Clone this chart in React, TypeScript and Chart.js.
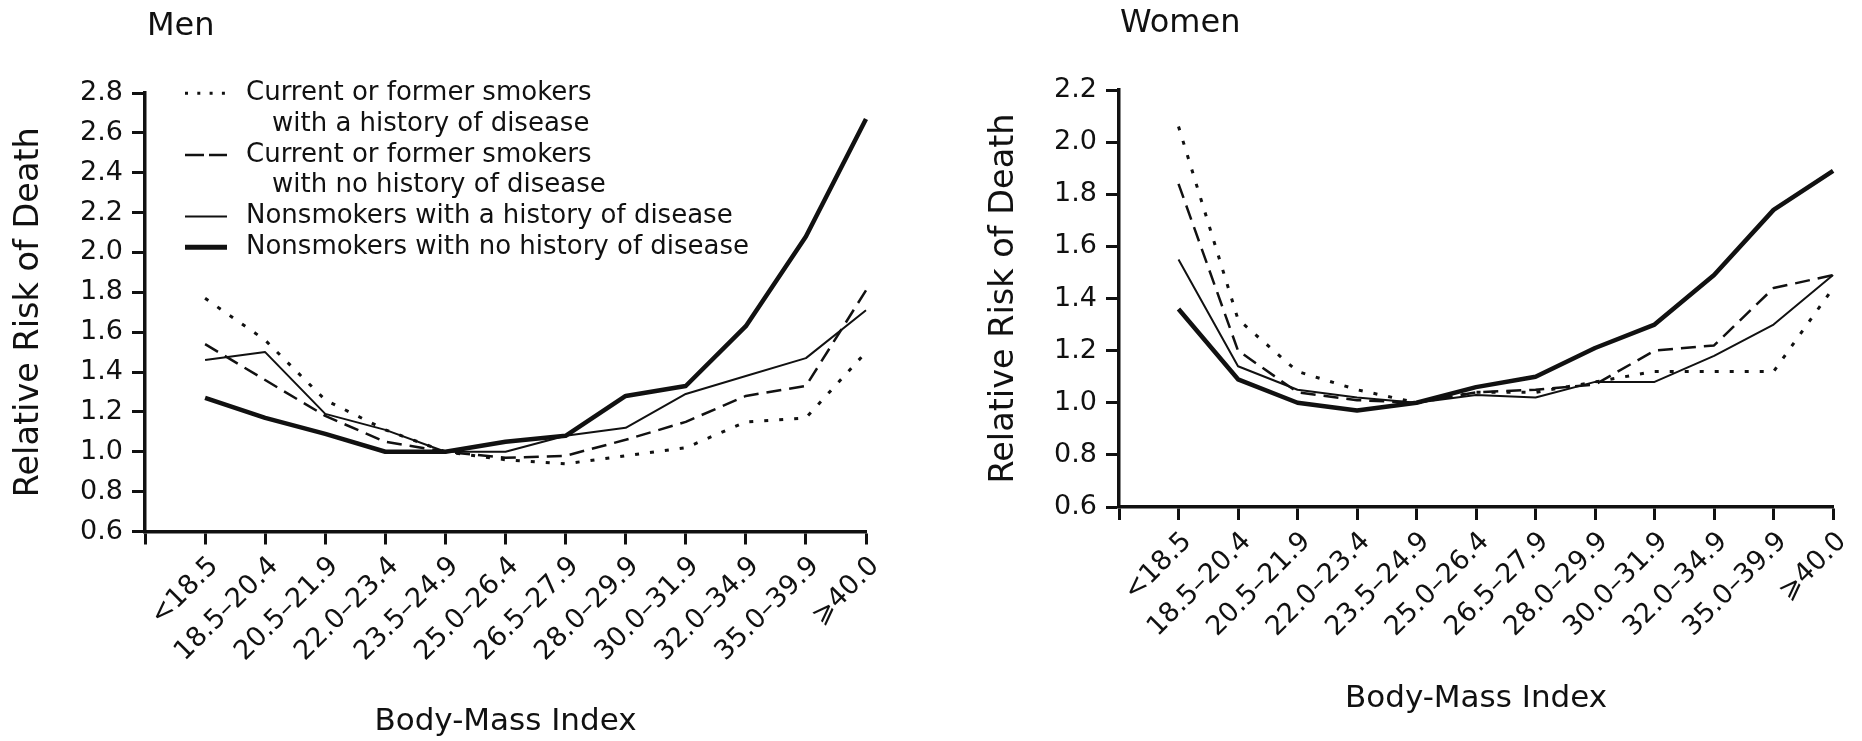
import React, { useEffect, useRef } from 'react';
import { Chart, registerables } from 'chart.js';

Chart.register(...registerables);

// ---------- data ----------
const categories = [
  '<18.5', '18.5–20.4', '20.5–21.9', '22.0–23.4', '23.5–24.9', '25.0–26.4',
  '26.5–27.9', '28.0–29.9', '30.0–31.9', '32.0–34.9', '35.0–39.9', '⩾40.0',
];

const seriesLabels = [
  'Current or former smokers\nwith a history of disease',
  'Current or former smokers\nwith no history of disease',
  'Nonsmokers with a history of disease',
  'Nonsmokers with no history of disease',
];

const menSmokersDisease = [1.77, 1.56, 1.26, 1.11, 1.0, 0.96, 0.94, 0.98, 1.02, 1.15, 1.17, 1.5];
const menSmokersNoDisease = [1.54, 1.36, 1.18, 1.05, 1.0, 0.97, 0.98, 1.06, 1.15, 1.28, 1.33, 1.81];
const menNonsmokersDisease = [1.46, 1.5, 1.19, 1.11, 1.0, 1.0, 1.08, 1.12, 1.29, 1.38, 1.47, 1.71];
const menNonsmokersNoDisease = [1.27, 1.17, 1.09, 1.0, 1.0, 1.05, 1.08, 1.28, 1.33, 1.63, 2.08, 2.67];

const womenSmokersDisease = [2.06, 1.32, 1.12, 1.05, 1.0, 1.04, 1.04, 1.08, 1.12, 1.12, 1.12, 1.44];
const womenSmokersNoDisease = [1.84, 1.2, 1.04, 1.01, 1.0, 1.04, 1.05, 1.07, 1.2, 1.22, 1.44, 1.49];
const womenNonsmokersDisease = [1.55, 1.14, 1.05, 1.02, 1.0, 1.03, 1.02, 1.08, 1.08, 1.18, 1.3, 1.49];
const womenNonsmokersNoDisease = [1.36, 1.09, 1.0, 0.97, 1.0, 1.06, 1.1, 1.21, 1.3, 1.49, 1.74, 1.89];

const menYMax = 2.8;
const womenYMax = 2.2;
const yMin = 0.6;
const yStep = 0.2;

// ---------- styles ----------
const FONT = "'DejaVu Sans', sans-serif";
const INK = '#111';
const lineStyles = [
  { borderWidth: 3, borderDash: [4, 11], legendDash: [3, 9.3] },
  { borderWidth: 2.5, borderDash: [15, 8], legendDash: [19, 5] },
  { borderWidth: 2, borderDash: [] as number[], legendDash: [] as number[] },
  { borderWidth: 4.5, borderDash: [] as number[], legendDash: [] as number[] },
];

const annotatePlugin = {
  id: 'annotate',
  afterDraw(chart: any, _args: any, opts: any) {
    const ctx = chart.ctx;
    ctx.save();
    ctx.fillStyle = INK;
    ctx.textAlign = 'left';
    ctx.textBaseline = 'alphabetic';
    ctx.font = `32px ${FONT}`;
    ctx.fillText(opts.title, opts.titleX, opts.titleY);
    if (opts.legend) {
      const lg = opts.legend;
      let row = 0;
      ctx.font = `26px ${FONT}`;
      ctx.textBaseline = 'middle';
      chart.data.datasets.forEach((ds: any, k: number) => {
        const lines = String(ds.label).split('\n');
        const y = lg.y + row * lg.spacing;
        ctx.beginPath();
        ctx.setLineDash(lineStyles[k].legendDash);
        ctx.lineWidth = k === 3 ? 5 : ds.borderWidth;
        ctx.strokeStyle = INK;
        ctx.moveTo(lg.x0, y);
        ctx.lineTo(lg.x1, y);
        ctx.stroke();
        ctx.setLineDash([]);
        lines.forEach((t: string, i: number) => {
          ctx.fillText(t, i === 0 ? lg.textX : lg.indentX, lg.y + (row + i) * lg.spacing);
        });
        row += lines.length;
      });
    }
    ctx.restore();
  },
};

type PanelProps = {
  left: number;
  width: number;
  height: number;
  title: string;
  titleX: number;
  titleY: number;
  series: number[][];
  yMax: number;
  axisX: number;
  plotTop: number;
  plotBottom: number;
  plotRight: number;
  yTitlePad: number;
  xTitlePad: number;
  legend?: any;
};

function Panel(p: PanelProps) {
  const ref = useRef<HTMLCanvasElement>(null);
  useEffect(() => {
    if (!ref.current) return;
    const datasets = p.series.map((vals, k) => ({
      label: seriesLabels[k],
      data: vals.map((v, i) => ({ x: i + 1, y: v })),
      borderColor: INK,
      backgroundColor: INK,
      borderWidth: lineStyles[k].borderWidth,
      borderDash: lineStyles[k].borderDash,
      pointRadius: 0,
      tension: 0,
      fill: false,
      clip: false as any,
      borderJoinStyle: 'round' as const,
    }));
    const gridOpts = {
      display: true,
      drawOnChartArea: false,
      drawTicks: true,
      tickLength: 13,
      tickWidth: 3,
      tickColor: INK,
      color: INK,
    };
    const borderOpts = { display: true, width: 3.5, color: INK };
    const chart = new Chart(ref.current, {
      type: 'line',
      data: { datasets },
      plugins: [annotatePlugin],
      options: {
        animation: false,
        responsive: false,
        devicePixelRatio: 1,
        layout: {
          padding: { top: p.plotTop, left: 0, bottom: 0, right: p.width - p.plotRight },
        },
        plugins: {
          legend: { display: false },
          tooltip: { enabled: false },
          annotate: { title: p.title, titleX: p.titleX, titleY: p.titleY, legend: p.legend },
        } as any,
        scales: {
          x: {
            type: 'linear',
            min: 0,
            max: categories.length,
            afterFit: (s: any) => { s.height = p.height - p.plotBottom; },
            afterBuildTicks: (s: any) => {
              s.ticks = Array.from({ length: categories.length + 1 }, (_, i) => ({ value: i }));
            },
            ticks: {
              autoSkip: false,
              minRotation: 45,
              maxRotation: 45,
              padding: 6,
              labelOffset: 9,
              color: INK,
              font: { family: FONT, size: 27 },
              callback: (v: any) => {
                const i = Math.round(Number(v));
                return i >= 1 ? categories[i - 1] : '';
              },
            },
            grid: gridOpts,
            border: borderOpts,
            title: {
              display: true,
              text: 'Body-Mass Index',
              color: INK,
              font: { family: FONT, size: 31 },
              padding: { top: 0, bottom: p.xTitlePad },
            },
          },
          y: {
            type: 'linear',
            min: yMin,
            max: p.yMax,
            afterFit: (s: any) => { s.width = p.axisX; },
            ticks: {
              stepSize: yStep,
              padding: 9,
              color: INK,
              font: { family: FONT, size: 27 },
              callback: (v: any) => Number(v).toFixed(1),
            },
            grid: gridOpts,
            border: borderOpts,
            title: {
              display: true,
              text: 'Relative Risk of Death',
              color: INK,
              font: { family: FONT, size: 33.5 },
              padding: { top: p.yTitlePad, bottom: 0 },
            },
          },
        } as any,
      },
    } as any);
    return () => chart.destroy();
  }, []);
  return (
    <canvas
      ref={ref}
      width={p.width}
      height={p.height}
      style={{ position: 'absolute', left: p.left, top: 0, width: p.width, height: p.height }}
    />
  );
}

export default function App() {
  return (
    <div style={{ position: 'absolute', left: 0, top: 0, width: 1862, height: 741, background: '#fff' }}>
      <Panel
        left={0}
        width={931}
        height={741}
        title="Men"
        titleX={147}
        titleY={35}
        series={[menSmokersDisease, menSmokersNoDisease, menNonsmokersDisease, menNonsmokersNoDisease]}
        yMax={menYMax}
        axisX={145}
        plotTop={93}
        plotBottom={531.5}
        plotRight={866}
        yTitlePad={9}
        xTitlePad={0}
        legend={{ x0: 185, x1: 227, textX: 246, indentX: 272, y: 93.3, spacing: 30.8 }}
      />
      <Panel
        left={931}
        width={931}
        height={741}
        title="Women"
        titleX={189}
        titleY={32}
        series={[womenSmokersDisease, womenSmokersNoDisease, womenNonsmokersDisease, womenNonsmokersNoDisease]}
        yMax={womenYMax}
        axisX={188}
        plotTop={90}
        plotBottom={507}
        plotRight={912}
        yTitlePad={53}
        xTitlePad={23}
      />
    </div>
  );
}
